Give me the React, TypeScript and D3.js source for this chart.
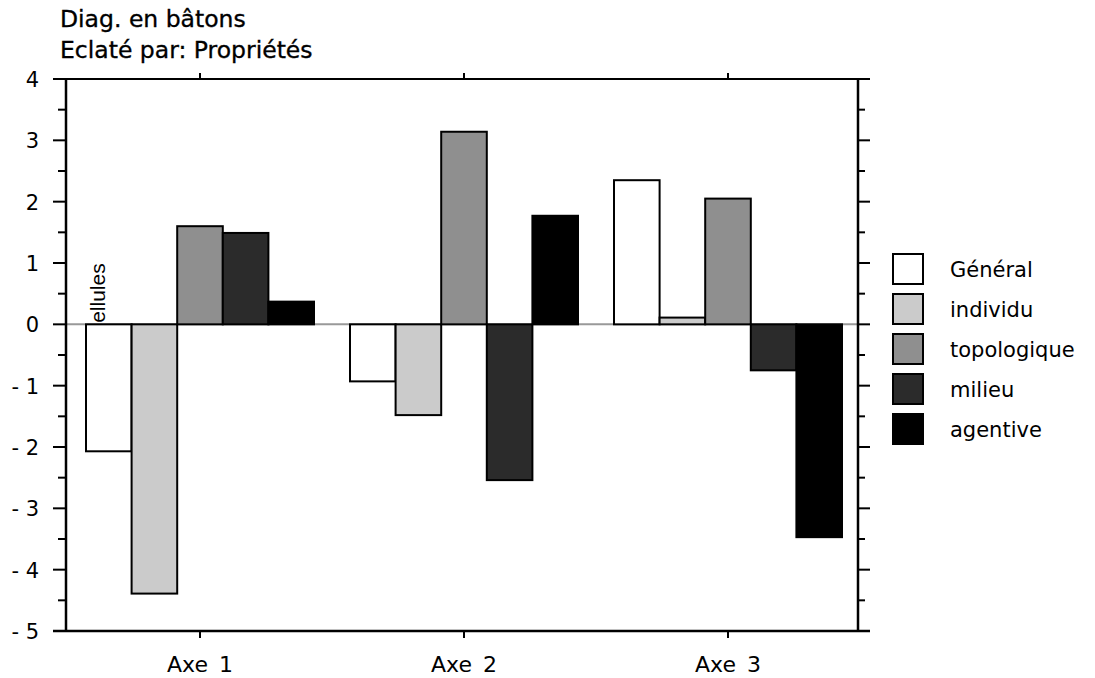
import React from "react";
import * as d3 from "d3";

const categories = ["Axe 1", "Axe 2", "Axe 3"];
const seriesNames = ["Général", "individu", "topologique", "milieu", "agentive"];
const general = [-2.07, -0.93, 2.35];
const individu = [-4.39, -1.48, 0.11];
const topologique = [1.6, 3.14, 2.05];
const milieu = [1.49, -2.54, -0.75];
const agentive = [0.37, 1.77, -3.47];
const seriesValues = [general, individu, topologique, milieu, agentive];
const seriesColors = ["#ffffff", "#cbcbcb", "#8f8f8f", "#2b2b2b", "#000000"];
const yTicks = [4, 3, 2, 1, 0, -1, -2, -3, -4, -5];
const yMinorTicks = [3.5, 2.5, 1.5, 0.5, -0.5, -1.5, -2.5, -3.5, -4.5];
const titleLines = ["Diag. en bâtons", "Eclaté par: Propriétés"];
const hiddenLabel = "Cellules";

const W = 1095;
const H = 678;
const FONT = "'DejaVu Sans', Verdana, sans-serif";

export default function App() {
  const left = 66;
  const right = 858;
  const y = d3.scaleLinear().domain([-5, 4]).range([631, 79]);
  const x = d3.scaleBand<string>().domain(categories).range([68, 860]).padding(0);
  const inner = d3
    .scaleBand<string>()
    .domain(seriesNames)
    .range([18, x.bandwidth() - 18])
    .padding(0);

  const fmt = (v: number) => (v < 0 ? `- ${Math.abs(v)}` : `${v}`);

  return (
    <svg
      width={W}
      height={H}
      style={{ position: "absolute", left: 0, top: 0, background: "#fff" }}
      fontFamily={FONT}
    >
      <rect x={0} y={0} width={W} height={H} fill="#fff" />
      {/* title */}
      {titleLines.map((t, i) => (
        <text
          key={t}
          x={60}
          y={27 + i * 31}
          fontSize={23.5}
          fill="#000"
          stroke="#000"
          strokeWidth={0.35}
        >
          {t}
        </text>
      ))}

      {/* zero line */}
      <line x1={left} x2={right} y1={y(0)} y2={y(0)} stroke="#999" strokeWidth={2} />

      {/* partially hidden label */}
      <text
        transform={`translate(105, 338) rotate(-90)`}
        fontSize={21}
        fontFamily="'Liberation Sans', Arial, sans-serif"
        fill="#000"
      >
        {hiddenLabel}
      </text>

      {/* bars */}
      {categories.map((c, ci) => (
        <g key={c} transform={`translate(${x(c)},0)`}>
          {seriesNames.map((s, si) => {
            const v = seriesValues[si][ci];
            const y0 = y(Math.max(0, v));
            const y1 = y(Math.min(0, v));
            return (
              <rect
                key={s}
                x={inner(s)}
                y={y0}
                width={inner.bandwidth()}
                height={y1 - y0}
                fill={seriesColors[si]}
                stroke="#000"
                strokeWidth={2}
              />
            );
          })}
        </g>
      ))}

      {/* frame */}
      <line x1={53} x2={870} y1={y(4)} y2={y(4)} stroke="#000" strokeWidth={2} />
      <line x1={53} x2={870} y1={y(-5)} y2={y(-5)} stroke="#000" strokeWidth={2.5} />
      <line x1={left} x2={left} y1={y(4)} y2={y(-5)} stroke="#000" strokeWidth={2.5} />
      <line x1={right} x2={right} y1={y(4)} y2={y(-5)} stroke="#000" strokeWidth={2.5} />

      {/* y ticks */}
      {yTicks.map((t) => (
        <g key={t}>
          <line x1={53} x2={left} y1={y(t)} y2={y(t)} stroke="#000" strokeWidth={2} />
          <line x1={right} x2={870} y1={y(t)} y2={y(t)} stroke="#000" strokeWidth={2} />
          <text x={39} y={y(t)} dy="0.38em" textAnchor="end" fontSize={21} fill="#000">
            {fmt(t)}
          </text>
        </g>
      ))}
      {yMinorTicks.map((t) => (
        <g key={t}>
          <line x1={58} x2={left} y1={y(t)} y2={y(t)} stroke="#000" strokeWidth={2} />
          <line x1={right} x2={865} y1={y(t)} y2={y(t)} stroke="#000" strokeWidth={2} />
        </g>
      ))}

      {/* x ticks and labels */}
      {categories.map((c) => {
        const cx = (x(c) as number) + x.bandwidth() / 2;
        return (
          <g key={c}>
            <line x1={cx} x2={cx} y1={y(4)} y2={y(4) - 6} stroke="#000" strokeWidth={2} />
            <line x1={cx} x2={cx} y1={y(-5)} y2={y(-5) + 7} stroke="#000" strokeWidth={2} />
            <text x={cx} y={672} textAnchor="middle" fontSize={22} fill="#000" wordSpacing={4}>
              {c}
            </text>
          </g>
        );
      })}

      {/* legend */}
      {seriesNames.map((s, i) => (
        <g key={s} transform={`translate(893, ${254 + i * 40})`}>
          <rect
            x={0}
            y={0}
            width={30}
            height={30}
            fill={seriesColors[i]}
            stroke="#000"
            strokeWidth={2}
          />
          <text x={57} y={15} dy="0.36em" fontSize={21} fill="#000">
            {s}
          </text>
        </g>
      ))}
    </svg>
  );
}
